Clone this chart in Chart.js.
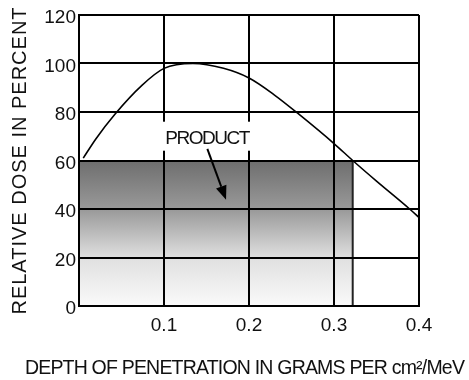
<!DOCTYPE html>
<html>
<head>
<meta charset="utf-8">
<script src="https://cdn.jsdelivr.net/npm/chart.js@4.4.1/dist/chart.umd.min.js"></script>
<style>
  html, body { margin: 0; padding: 0; background: #fff; }
  #wrap { width: 469px; height: 380px; position: relative; }
</style>
</head>
<body>
<div id="wrap"><canvas id="doseChart"></canvas></div>
<script>
// Curva de dosis relativa frente a profundidad (g/cm² por MeV)
const profundidad = [0.005, 0.02, 0.042, 0.074, 0.1, 0.134, 0.17, 0.2, 0.23, 0.259, 0.3, 0.322, 0.35, 0.389, 0.4];
const dosis       = [61,    69,   79,    91,    98,  100,   98,   94,  87,   79,    67,  60,    51.5, 40,    36.5];

// Zona ocupada por el producto
const productoAncho = 0.322;
const productoDosis = 60;

// Ticks de los ejes
const ticksX = [0, 0.1, 0.2, 0.3, 0.4];
const ticksY = [0, 20, 40, 60, 80, 100, 120];

// Etiqueta "PRODUCT" y su flecha, en unidades de datos
const etiquetaTexto = 'PRODUCT';
const etiquetaPos = { x: 0.1506, y: 69.4 };
const flechaDesde = { x: 0.151, y: 64.8 };
const flechaHasta = { x: 0.173, y: 43.8 };

const fuente = "'Liberation Sans', Arial, sans-serif";

// Espaciado de letras de los títulos de cada eje
const espaciadoTitulo = { x: '-0.8px', y: '1px' };

// Escala lineal que aplica espaciado de letras al título y deja
// que el título horizontal use casi todo el ancho del lienzo
class EscalaEspaciada extends Chart.LinearScale {
    drawTitle() {
        const c = this.ctx;
        const izq = this.left, der = this.right;
        if (this.isHorizontal()) {
            this.left = 20;
            this.right = this.chart.width;
        }
        c.save();
        c.letterSpacing = espaciadoTitulo[this.axis] || '0px';
        super.drawTitle();
        c.restore();
        this.left = izq;
        this.right = der;
    }
}
EscalaEspaciada.id = 'linealEspaciada';
EscalaEspaciada.defaults = Chart.LinearScale.defaults;
Chart.register(EscalaEspaciada);

const puntosCurva = profundidad.map((x, i) => ({ x: x, y: dosis[i] }));

// Degradado gris del bloque del producto
function degradadoProducto(context) {
    const chart = context.chart;
    const area = chart.chartArea;
    if (!area) return '#999';
    const yTop = chart.scales.y.getPixelForValue(productoDosis);
    const g = chart.ctx.createLinearGradient(0, yTop, 0, area.bottom);
    g.addColorStop(0, '#6e6e6e');
    g.addColorStop(0.34, '#9a9a9a');
    g.addColorStop(0.67, '#e0e0e0');
    g.addColorStop(1, '#fafafa');
    return g;
}

// Dibuja la etiqueta con fondo blanco y la flecha encima de la rejilla
const etiquetaPlugin = {
    id: 'etiquetaProducto',
    afterDraw(chart) {
        const ctx = chart.ctx;
        const sx = chart.scales.x;
        const sy = chart.scales.y;
        const cx = sx.getPixelForValue(etiquetaPos.x);
        const cy = sy.getPixelForValue(etiquetaPos.y);

        ctx.save();
        ctx.font = "19px " + fuente;
        ctx.letterSpacing = '-1.5px';
        const w = ctx.measureText(etiquetaTexto).width;
        ctx.fillStyle = '#fff';
        ctx.fillRect(cx - w / 2 - 3, cy - 16, w + 6, 29);
        ctx.fillStyle = '#111';
        ctx.textAlign = 'center';
        ctx.textBaseline = 'middle';
        ctx.fillText(etiquetaTexto, cx, cy + 1);

        const x1 = sx.getPixelForValue(flechaDesde.x);
        const y1 = sy.getPixelForValue(flechaDesde.y);
        const x2 = sx.getPixelForValue(flechaHasta.x);
        const y2 = sy.getPixelForValue(flechaHasta.y);
        const ang = Math.atan2(y2 - y1, x2 - x1);
        const largo = 14, medio = 5.5;
        const bx = x2 - largo * Math.cos(ang);
        const by = y2 - largo * Math.sin(ang);

        ctx.strokeStyle = '#000';
        ctx.lineWidth = 2;
        ctx.beginPath();
        ctx.moveTo(x1, y1);
        ctx.lineTo(bx, by);
        ctx.stroke();

        ctx.fillStyle = '#000';
        ctx.beginPath();
        ctx.moveTo(x2, y2);
        ctx.lineTo(bx + medio * Math.sin(ang), by - medio * Math.cos(ang));
        ctx.lineTo(bx - medio * Math.sin(ang), by + medio * Math.cos(ang));
        ctx.closePath();
        ctx.fill();
        ctx.restore();
    }
};

const ctx = document.getElementById('doseChart').getContext('2d');

new Chart(ctx, {
    type: 'scatter',
    data: {
        datasets: [
            {
                // bloque del producto
                data: [{ x: 0, y: productoDosis }, { x: productoAncho, y: productoDosis }],
                showLine: true,
                fill: 'origin',
                backgroundColor: degradadoProducto,
                borderColor: '#333',
                borderWidth: 1,
                pointRadius: 0,
                order: 3
            },
            {
                // borde derecho del producto
                data: [{ x: productoAncho, y: 0 }, { x: productoAncho, y: productoDosis }],
                showLine: true,
                borderColor: '#222',
                borderWidth: 2,
                pointRadius: 0,
                order: 2
            },
            {
                data: puntosCurva,
                showLine: true,
                borderColor: '#000',
                borderWidth: 1.6,
                pointRadius: 0,
                cubicInterpolationMode: 'monotone',
                order: 1
            }
        ]
    },
    options: {
        responsive: true,
        maintainAspectRatio: false,
        animation: false,
        layout: { padding: { top: 15, right: 50, left: 0, bottom: 0 } },
        plugins: {
            legend: { display: false },
            tooltip: { enabled: false }
        },
        scales: {
            x: {
                type: 'linealEspaciada',
                position: 'bottom',
                min: 0,
                max: 0.4,
                afterBuildTicks: (scale) => { scale.ticks = ticksX.map(v => ({ value: v })); },
                afterFit: (scale) => { scale.height = 74; },
                grid: { color: '#000', lineWidth: 2, drawTicks: false, z: 1 },
                border: { color: '#000', width: 2, z: 1 },
                ticks: {
                    color: '#111',
                    padding: 8,
                    font: { family: fuente, size: 19 },
                    callback: (v) => v === 0 ? '' : v.toFixed(1)
                },
                title: {
                    display: true,
                    text: 'DEPTH OF PENETRATION IN GRAMS PER cm²/MeV',
                    color: '#111',
                    font: { family: fuente, size: 19.5 },
                    padding: { top: 0, bottom: 0 }
                }
            },
            y: {
                type: 'linealEspaciada',
                position: 'left',
                min: 0,
                max: 120,
                afterBuildTicks: (scale) => { scale.ticks = ticksY.map(v => ({ value: v })); },
                afterFit: (scale) => { scale.width = 79; },
                grid: { color: '#000', lineWidth: 2, drawTicks: false, z: 1 },
                border: { color: '#000', width: 2, z: 1 },
                ticks: {
                    color: '#111',
                    padding: 3,
                    labelOffset: 3,
                    font: { family: fuente, size: 19 }
                },
                title: {
                    display: true,
                    text: 'RELATIVE DOSE IN PERCENT',
                    color: '#111',
                    font: { family: fuente, size: 20 },
                    padding: { top: 8, bottom: 0 }
                }
            }
        }
    },
    plugins: [etiquetaPlugin]
});
</script>
</body>
</html>
